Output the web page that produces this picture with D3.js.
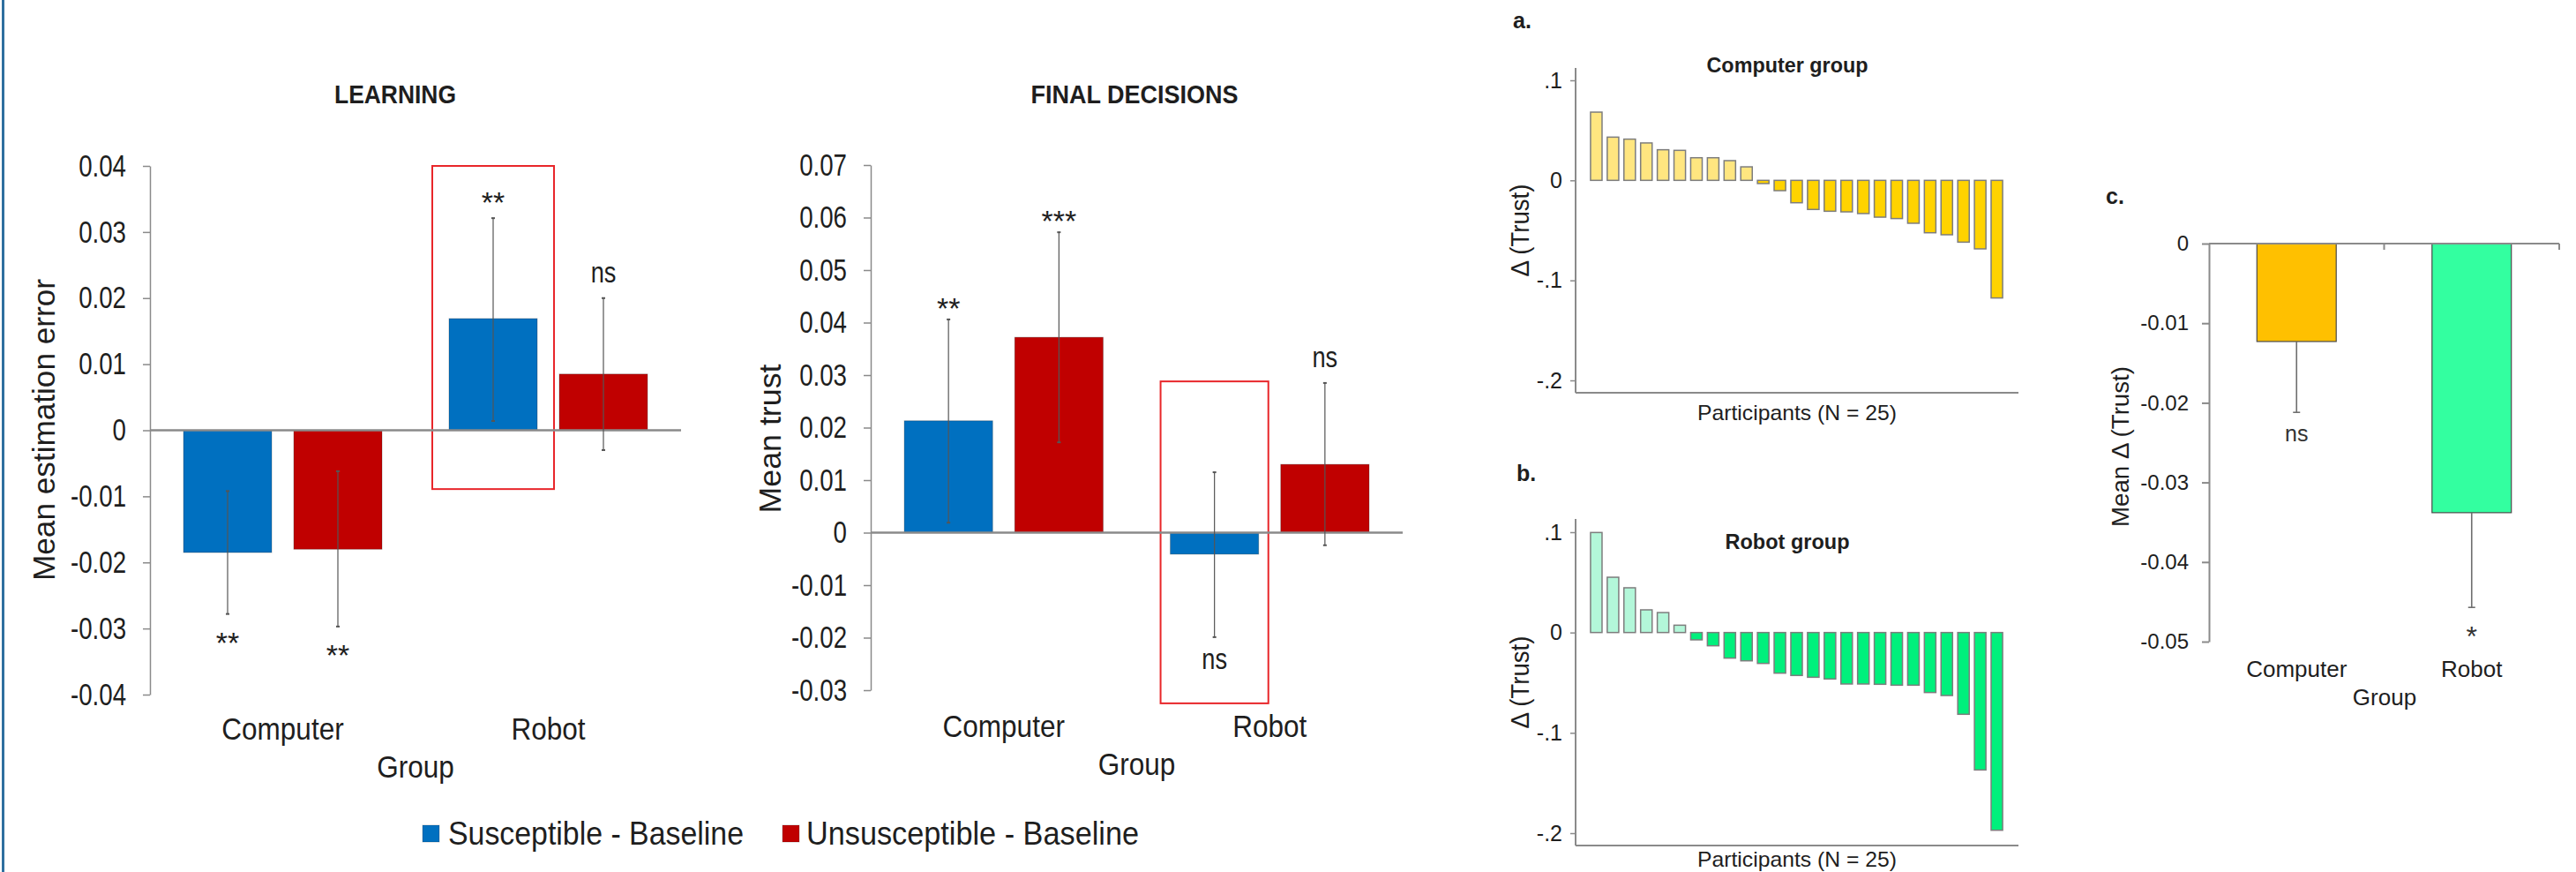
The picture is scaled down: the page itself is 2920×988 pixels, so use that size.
<!DOCTYPE html>
<html>
<head>
<meta charset="utf-8">
<script src="https://cdn.jsdelivr.net/npm/d3@7"></script>
<style>
  body { margin: 0; background: #fff; }
  svg { display: block; }
  text { font-family: "Liberation Sans", Arial, sans-serif; fill: #1e1e1e; }
</style>
</head>
<body>
<svg width="2920" height="988"></svg>
<script>
/////////////////////////////////
// Data.
//

const groups = ["Computer", "Robot"];
const series = ["Susceptible - Baseline", "Unsusceptible - Baseline"];
const seriesColors = ["#0070c0", "#c00000"];

// LEARNING panel.
const learningSusceptible = [-0.0185, 0.0169];
const learningUnsusceptible = [-0.0180, 0.0085];
const learningSusceptibleCI = [[-0.0278, -0.0092], [0.0014, 0.0321]];
const learningUnsusceptibleCI = [[-0.0297, -0.0062], [-0.0030, 0.0200]];
const learningSusceptibleSig = ["**", "**"];
const learningUnsusceptibleSig = ["**", "ns"];
const learningTicks = [0.04, 0.03, 0.02, 0.01, 0, -0.01, -0.02, -0.03, -0.04];
const learningBox = [-0.0089, 0.04];

// FINAL DECISIONS panel.
const finalSusceptible = [0.0213, -0.0041];
const finalUnsusceptible = [0.0372, 0.0130];
const finalSusceptibleCI = [[0.0019, 0.0406], [-0.0199, 0.0115]];
const finalUnsusceptibleCI = [[0.0172, 0.0572], [-0.0024, 0.0285]];
const finalSusceptibleSig = ["**", "ns"];
const finalUnsusceptibleSig = ["***", "ns"];
const finalTicks = [0.07, 0.06, 0.05, 0.04, 0.03, 0.02, 0.01, 0, -0.01, -0.02, -0.03];
const finalBox = [-0.0325, 0.0288];

// Panels a. and b. : per participant change in trust (sorted).
const computerDeltas = [0.0682, 0.0432, 0.0412, 0.0374, 0.0306, 0.0300, 0.0226, 0.0226, 0.0197, 0.0135,
    -0.0032, -0.0103, -0.0224, -0.0291, -0.0309, -0.0315, -0.0332, -0.0368, -0.0382, -0.0429,
    -0.0524, -0.0544, -0.0618, -0.0685, -0.1176];
const robotDeltas = [0.0997, 0.0551, 0.0446, 0.0226, 0.0199, 0.0073, -0.0073, -0.0132, -0.0255, -0.0282,
    -0.0308, -0.0405, -0.0428, -0.0446, -0.0463, -0.0513, -0.0513, -0.0516, -0.0525, -0.0525,
    -0.0598, -0.0628, -0.0815, -0.1370, -0.1971];
const deltaTicks = [0.1, 0, -0.1, -0.2];

// Panel c. : mean change in trust.
const meanDelta = [-0.0123, -0.0338];
const meanDeltaLow = [-0.0212, -0.0457];
const meanDeltaSig = ["ns", "*"];
const meanDeltaColors = ["#ffc000", "#33ffa0"];
const meanTicks = [0, -0.01, -0.02, -0.03, -0.04, -0.05];

/////////////////////////////////
// Drawing.
//

const svg = d3.select("svg");
const axisGray = "#8a8a8a";
const errGray = "#555";

// Condense text by a factor of its natural length.
function squeeze(sel, k) {
    sel.each(function () {
        const len = this.getComputedTextLength();
        d3.select(this).attr("textLength", len * k).attr("lengthAdjust", "spacingAndGlyphs");
    });
}

function fitTo(sel, w) {
    sel.attr("textLength", w).attr("lengthAdjust", "spacingAndGlyphs");
}

function label(g, txt, x, y, size, opts = {}) {
    const t = g.append("text")
        .attr("x", x)
        .attr("y", y)
        .attr("text-anchor", opts.anchor || "middle")
        .style("font-size", size + "px")
        .style("font-weight", opts.bold ? "bold" : null)
        .text(txt);
    if (opts.rotate) {
        t.attr("transform", `rotate(-90,${x},${y})`);
    }
    if (opts.width) fitTo(t, opts.width);
    if (opts.k) squeeze(t, opts.k);
    return t;
}

// left border of the figure
svg.append("rect").attr("x", 2).attr("y", 0).attr("width", 3).attr("height", 988).attr("fill", "#2f6f9f");

function groupedPanel(o) {

    const g = svg.append("g");
    const x = d3.scaleBand().domain(groups).range([o.x0, o.x1]);
    const inner = d3.scaleBand().domain(series).range([0, x.bandwidth()])
        .paddingInner(0.2).paddingOuter(0.304);
    const y = d3.scaleLinear().domain(o.domain).range([o.yBottom, o.yTop]);

    const axis = d3.axisLeft(y)
        .tickValues(o.ticks)
        .tickSize(8)
        .tickSizeOuter(0)
        .tickPadding(19)
        .tickFormat((d) => d === 0 ? "0" : d.toFixed(2));
    const ag = g.append("g").attr("transform", `translate(${o.x0},0)`).call(axis);
    ag.select(".domain").attr("stroke", axisGray).attr("stroke-width", 1.5);
    ag.selectAll(".tick line").attr("stroke", axisGray).attr("stroke-width", 1.5);
    ag.selectAll(".tick text")
        .style("font-size", "35px")
        .style("font-family", '"Liberation Sans", Arial, sans-serif')
        .attr("fill", "#1e1e1e");
    squeeze(ag.selectAll(".tick text"), 0.79);

    const rows = [];
    groups.forEach((grp, i) => {
        series.forEach((s, j) => {
            rows.push({
                grp, s, j,
                v: o.values[j][i],
                ci: o.ci[j][i],
                sig: o.sig[j][i]
            });
        });
    });

    // red highlight box round the Robot susceptible bar
    g.append("rect")
        .attr("x", x("Robot") + inner(series[0]) - o.boxPad)
        .attr("width", inner.bandwidth() + 2 * o.boxPad)
        .attr("y", y(o.box[1]))
        .attr("height", y(o.box[0]) - y(o.box[1]))
        .attr("fill", "none")
        .attr("stroke", "#e8262a")
        .attr("stroke-width", 2);

    g.selectAll(".bar")
        .data(rows)
        .enter()
        .append("rect")
        .attr("class", "bar")
        .attr("x", (d) => x(d.grp) + inner(d.s))
        .attr("width", inner.bandwidth())
        .attr("y", (d) => y(Math.max(0, d.v)))
        .attr("height", (d) => Math.abs(y(d.v) - y(0)))
        .attr("fill", (d) => seriesColors[d.j])
        .attr("stroke", "rgba(0,0,0,0.25)")
        .attr("stroke-width", 1);

    // zero line
    g.append("line")
        .attr("x1", o.x0).attr("x2", o.x1)
        .attr("y1", y(0)).attr("y2", y(0))
        .attr("stroke", axisGray).attr("stroke-width", 2.5);

    // error bars
    const eb = g.selectAll(".err").data(rows).enter().append("g").attr("class", "err");
    const cx = (d) => x(d.grp) + inner(d.s) + inner.bandwidth() / 2;
    eb.append("line")
        .attr("x1", cx).attr("x2", cx)
        .attr("y1", (d) => y(d.ci[0])).attr("y2", (d) => y(d.ci[1]))
        .attr("stroke", errGray).attr("stroke-width", 1.2);
    [0, 1].forEach((k) => {
        eb.append("line")
            .attr("x1", (d) => cx(d) - 2).attr("x2", (d) => cx(d) + 2)
            .attr("y1", (d) => y(d.ci[k])).attr("y2", (d) => y(d.ci[k]))
            .attr("stroke", errGray).attr("stroke-width", 2);
    });

    // significance marks
    rows.forEach((d) => {
        const isNs = d.sig === "ns";
        const off = isNs ? 27 : o.starOff;
        const centre = d.v < 0 ? y(d.ci[0]) + off : y(d.ci[1]) - off;
        if (isNs) {
            label(g, d.sig, cx(d), centre + 0.26 * 34, 34, { k: 0.8 });
        } else {
            label(g, d.sig, cx(d), centre + 0.56 * 34, 34);
        }
    });

    // categories and axis titles
    groups.forEach((grp) => {
        label(g, grp, x(grp) + x.bandwidth() / 2, o.catY, 35, { k: 0.9 });
    });
    label(g, "Group", (o.x0 + o.x1) / 2, o.catY + 43, 35, { k: 0.9 });
    label(g, o.title, o.titleX, 117, 29, { bold: true, width: o.titleW });
    label(g, o.yTitle, o.yTitleX, o.yTitleY, 35, { rotate: true, width: o.yTitleW });
}

groupedPanel({
    x0: 170, x1: 772, yTop: 188, yBottom: 787, domain: [-0.04, 0.04],
    ticks: learningTicks,
    values: [learningSusceptible, learningUnsusceptible],
    ci: [learningSusceptibleCI, learningUnsusceptibleCI],
    sig: [learningSusceptibleSig, learningUnsusceptibleSig],
    box: learningBox, boxPad: 19, starOff: 25,
    catY: 838,
    title: "LEARNING", titleX: 448, titleW: 138,
    yTitle: "Mean estimation error", yTitleX: 62, yTitleY: 487, yTitleW: 342
});

groupedPanel({
    x0: 987, x1: 1590, yTop: 187, yBottom: 782, domain: [-0.03, 0.07],
    ticks: finalTicks,
    values: [finalSusceptible, finalUnsusceptible],
    ci: [finalSusceptibleCI, finalUnsusceptibleCI],
    sig: [finalSusceptibleSig, finalUnsusceptibleSig],
    box: finalBox, boxPad: 11, starOff: 20,
    catY: 835,
    title: "FINAL DECISIONS", titleX: 1286, titleW: 235,
    yTitle: "Mean trust", yTitleX: 885, yTitleY: 497, yTitleW: 169
});

// legend
const legend = svg.append("g");
[[479, 508, 335], [887, 914, 377]].forEach((p, i) => {
    legend.append("rect")
        .attr("x", p[0]).attr("y", 935)
        .attr("width", 19).attr("height", 19)
        .attr("fill", seriesColors[i])
        .attr("stroke", "rgba(0,0,0,0.2)");
    label(legend, series[i], p[1], 957, 37, { anchor: "start", width: p[2] });
});

function participantsPanel(o) {

    const g = svg.append("g");
    const x = d3.scaleBand().domain(d3.range(o.values.length)).range([1800, 2273])
        .paddingInner(0.31).paddingOuter(0.155);
    const y = d3.scaleLinear().domain([-0.2, 0.1]).range([o.yLow, o.yHigh]);

    const axis = d3.axisLeft(y)
        .tickValues(deltaTicks)
        .tickSize(6)
        .tickSizeOuter(0)
        .tickPadding(9)
        .tickFormat((d) => d === 0 ? "0" : d.toFixed(1).replace("0.", "."));
    const ag = g.append("g").attr("transform", "translate(1786,0)").call(axis);
    ag.select(".domain").remove();
    ag.selectAll(".tick line").attr("stroke", axisGray).attr("stroke-width", 1.5);
    ag.selectAll(".tick text")
        .style("font-size", "25px")
        .style("font-family", '"Liberation Sans", Arial, sans-serif')
        .attr("fill", "#1e1e1e");

    g.append("line")
        .attr("x1", 1786).attr("x2", 1786)
        .attr("y1", o.axisTop).attr("y2", o.axisBottom)
        .attr("stroke", axisGray).attr("stroke-width", 2);
    g.append("line")
        .attr("x1", 1786).attr("x2", 2288)
        .attr("y1", o.axisBottom).attr("y2", o.axisBottom)
        .attr("stroke", axisGray).attr("stroke-width", 2);

    g.selectAll(".pbar")
        .data(o.values)
        .enter()
        .append("rect")
        .attr("class", "pbar")
        .attr("x", (d, i) => x(i))
        .attr("width", x.bandwidth())
        .attr("y", (d) => y(Math.max(0, d)))
        .attr("height", (d) => Math.abs(y(d) - y(0)))
        .attr("fill", (d) => d >= 0 ? o.posColor : o.negColor)
        .attr("stroke", "#7d7d7d")
        .attr("stroke-width", 1.5);

    label(g, o.letter, o.letterX, o.letterY, 25, { anchor: "start", bold: true });
    label(g, o.title, 2026, o.titleY, 23, { bold: true, width: o.titleW });
    label(g, "\u0394 (Trust)", 1733, (o.axisTop + o.axisBottom) / 2, 29, { rotate: true, width: 105 });
    label(g, "Participants (N = 25)", 2037, o.labelY, 24, { width: 226 });
}

participantsPanel({
    values: computerDeltas, yLow: 431, yHigh: 91, axisTop: 77, axisBottom: 445,
    posColor: "#ffe680", negColor: "#ffd300",
    letter: "a.", letterX: 1715, letterY: 32,
    title: "Computer group", titleY: 82, titleW: 183, labelY: 476
});

participantsPanel({
    values: robotDeltas, yLow: 944, yHigh: 603, axisTop: 588, axisBottom: 958,
    posColor: "#b3f7d9", negColor: "#00f07c",
    letter: "b.", letterX: 1719, letterY: 545,
    title: "Robot group", titleY: 622, titleW: 141, labelY: 982
});

// panel c.
(function () {

    const g = svg.append("g");
    const x = d3.scaleBand().domain(groups).range([2504, 2901])
        .paddingInner(0.547).paddingOuter(0.2735);
    const y = d3.scaleLinear().domain([-0.05, 0]).range([727, 276]);

    const axis = d3.axisLeft(y)
        .tickValues(meanTicks)
        .tickSize(8)
        .tickSizeOuter(0)
        .tickPadding(15)
        .tickFormat((d) => d === 0 ? "0" : d.toFixed(2));
    const ag = g.append("g").attr("transform", "translate(2504,0)").call(axis);
    ag.select(".domain").attr("stroke", axisGray).attr("stroke-width", 2);
    ag.selectAll(".tick line").attr("stroke", axisGray).attr("stroke-width", 2);
    ag.selectAll(".tick text")
        .style("font-size", "24px")
        .style("font-family", '"Liberation Sans", Arial, sans-serif')
        .attr("fill", "#1e1e1e");

    g.selectAll(".mbar")
        .data(meanDelta)
        .enter()
        .append("rect")
        .attr("class", "mbar")
        .attr("x", (d, i) => x(groups[i]))
        .attr("width", x.bandwidth())
        .attr("y", y(0))
        .attr("height", (d) => y(d) - y(0))
        .attr("fill", (d, i) => meanDeltaColors[i])
        .attr("stroke", "#4a4a4a")
        .attr("stroke-width", 1.2);

    // x axis along the zero line, ticks at the band edges
    g.append("line")
        .attr("x1", 2504).attr("x2", 2901)
        .attr("y1", y(0)).attr("y2", y(0))
        .attr("stroke", axisGray).attr("stroke-width", 2);
    [1, 2].forEach((k) => {
        const tx = 2504 + k * x.step();
        g.append("line")
            .attr("x1", tx).attr("x2", tx)
            .attr("y1", y(0)).attr("y2", y(0) + 7)
            .attr("stroke", axisGray).attr("stroke-width", 2);
    });

    meanDelta.forEach((d, i) => {
        const cx = x(groups[i]) + x.bandwidth() / 2;
        g.append("line")
            .attr("x1", cx).attr("x2", cx)
            .attr("y1", y(d)).attr("y2", y(meanDeltaLow[i]))
            .attr("stroke", "#6e6e6e").attr("stroke-width", 1.6);
        g.append("line")
            .attr("x1", cx - 4).attr("x2", cx + 4)
            .attr("y1", y(meanDeltaLow[i])).attr("y2", y(meanDeltaLow[i]))
            .attr("stroke", "#6e6e6e").attr("stroke-width", 1.6);
        const centre = y(meanDeltaLow[i]) + 26;
        if (meanDeltaSig[i] === "ns") {
            label(g, meanDeltaSig[i], cx, centre + 0.26 * 25, 25).style("fill", "#333");
        } else {
            label(g, meanDeltaSig[i], cx, centre + 0.56 * 32, 32).style("fill", "#333");
        }
        label(g, groups[i], cx, 767, 26);
    });

    label(g, "Group", 2703, 799, 26);
    label(g, "c.", 2387, 231, 25, { anchor: "start", bold: true });
    label(g, "Mean \u0394 (Trust)", 2413, 506, 27, { rotate: true, width: 182 });
})();
</script>
</body>
</html>
